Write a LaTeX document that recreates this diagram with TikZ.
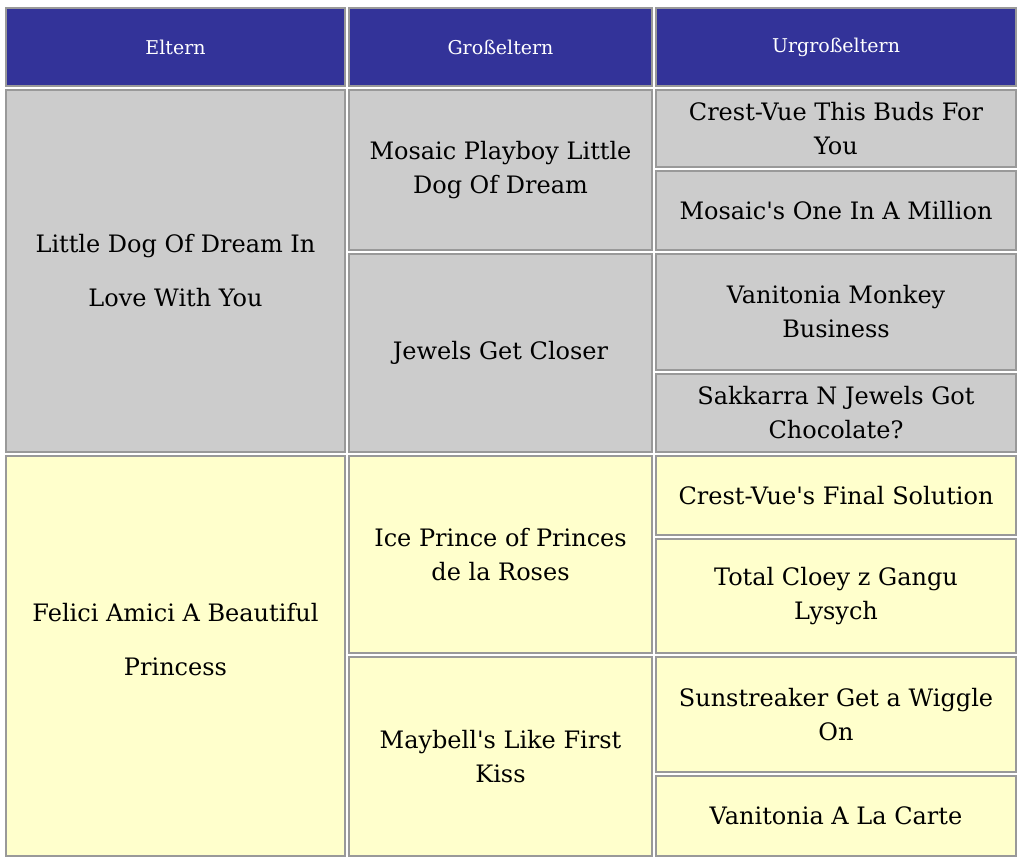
\documentclass[tikz,border=0pt]{standalone}
\usepackage{fontspec}
\setmainfont{DejaVu Serif}
\usepackage{tikz}

\definecolor{headblue}{HTML}{333399}
\definecolor{cellgray}{HTML}{CCCCCC}
\definecolor{cellyellow}{HTML}{FFFFCC}
\definecolor{rimgray}{HTML}{999999}

\tikzset{
  cell/.style={draw=rimgray, line width=1.6pt, inner sep=0pt, align=center,
    font=\fontsize{24}{34}\selectfont},
  headcell/.style={cell, fill=headblue, text=white, font=\fontsize{19}{22}\selectfont},
  sirecell/.style={cell, fill=cellgray},
  damcell/.style={cell, fill=cellyellow}
}

\begin{document}
\begin{tikzpicture}[x=1pt,y=-1pt]
\useasboundingbox (0,0) rectangle (1024,861);

\node [headcell, minimum width=339pt, minimum height=78pt] (eltern) at (175.5,47) {Eltern};
\node [headcell, minimum width=303pt, minimum height=78pt] (grosseltern) at (500.5,47) {Großeltern};
\node [headcell, minimum width=360pt, minimum height=78pt] (urgrosseltern) at (836,47) {Urgroßeltern};

\node [sirecell, minimum width=339pt, minimum height=362pt, font=\fontsize{24}{54}\selectfont] (sire) at (175.5,271) {Little Dog Of Dream In\\Love With You};
\node [damcell, minimum width=339pt, minimum height=400pt, font=\fontsize{24}{54}\selectfont] (dam) at (175.5,656) {Felici Amici A Beautiful\\Princess\\[-20pt]};

\node [sirecell, minimum width=303pt, minimum height=160pt] (ss) at (500.5,170) {Mosaic Playboy Little\\Dog Of Dream};
\node [sirecell, minimum width=303pt, minimum height=198pt] (sd) at (500.5,353) {Jewels Get Closer};
\node [damcell, minimum width=303pt, minimum height=197pt] (ds) at (500.5,554.5) {Ice Prince of Princes\\de la Roses};
\node [damcell, minimum width=303pt, minimum height=199pt] (dd) at (500.5,756.5) {Maybell\textquotesingle s Like First\\Kiss};

\node [sirecell, minimum width=360pt, minimum height=77pt] (sss) at (836,128.5) {Crest-Vue This Buds For\\You};
\node [sirecell, minimum width=360pt, minimum height=79pt] (ssd) at (836,210.5) {Mosaic\textquotesingle s One In A Million};
\node [sirecell, minimum width=360pt, minimum height=116pt] (sds) at (836,312) {Vanitonia Monkey\\Business};
\node [sirecell, minimum width=360pt, minimum height=78pt] (sdd) at (836,413) {Sakkarra N Jewels Got\\Chocolate?};
\node [damcell, minimum width=360pt, minimum height=79pt] (dss) at (836,495.5) {Crest-Vue\textquotesingle s Final Solution};
\node [damcell, minimum width=360pt, minimum height=114pt] (dsd) at (836,596) {Total Cloey z Gangu\\Lysych};
\node [damcell, minimum width=360pt, minimum height=115pt] (dds) at (836,714.5) {Sunstreaker Get a Wiggle\\On};
\node [damcell, minimum width=360pt, minimum height=80pt] (ddd) at (836,816) {Vanitonia A La Carte};

\end{tikzpicture}
\end{document}
